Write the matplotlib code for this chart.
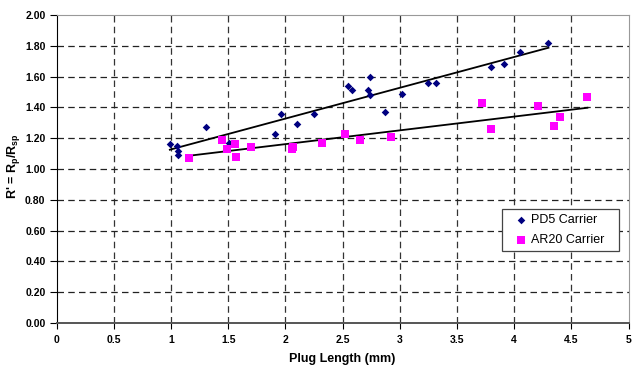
import numpy as np
import matplotlib
matplotlib.use("Agg")
import matplotlib.pyplot as plt

plt.rcParams['font.family'] = ['Liberation Sans', 'DejaVu Sans']
plt.rcParams['mathtext.fontset'] = 'custom'
plt.rcParams['mathtext.rm'] = 'Liberation Sans'
plt.rcParams['mathtext.bf'] = 'Liberation Sans:bold'

pd5_x = [0.99, 1.05, 1.06, 1.06, 1.31, 1.51, 1.91, 1.96, 2.10, 2.25, 2.55, 2.585,
         2.72, 2.74, 2.74, 2.87, 3.02, 3.25, 3.32, 3.80, 3.91, 4.05, 4.30]
pd5_y = [1.16, 1.15, 1.12, 1.09, 1.27, 1.17, 1.23, 1.36, 1.29, 1.36, 1.54, 1.51,
         1.51, 1.60, 1.48, 1.37, 1.49, 1.56, 1.56, 1.66, 1.68, 1.76, 1.82]

ar20_x = [1.16, 1.45, 1.49, 1.56, 1.57, 1.70, 2.07, 2.06, 2.32, 2.52, 2.65, 2.92,
          3.72, 3.80, 4.21, 4.35, 4.40, 4.64]
ar20_y = [1.07, 1.19, 1.13, 1.16, 1.08, 1.14, 1.145, 1.128, 1.17, 1.23, 1.19, 1.21,
          1.43, 1.26, 1.41, 1.28, 1.34, 1.47]

xticks = [0, 0.5, 1, 1.5, 2, 2.5, 3, 3.5, 4, 4.5, 5]
xtick_labels = ['0', '0.5', '1', '1.5', '2', '2.5', '3', '3.5', '4', '4.5', '5']
yticks = [0.0, 0.2, 0.4, 0.6, 0.8, 1.0, 1.2, 1.4, 1.6, 1.8, 2.0]

fig = plt.figure(figsize=(6.33, 3.67), dpi=100)
ax = fig.add_axes([0.0894, 0.1199, 0.9036, 0.8392])

ax.set_xlim(0, 5)
ax.set_ylim(0, 2)

# grid
for xv in xticks[1:-1]:
    ax.axvline(xv, color='#333333', lw=0.9, dashes=(5.2, 3.4), zorder=1)
for yv in yticks[1:-1]:
    ax.axhline(yv, color='#222222', lw=0.9, dashes=(5.2, 3.4), zorder=1)

# linear trendlines
def lin_line(xs, ys):
    xs = np.asarray(xs); ys = np.asarray(ys)
    m, c = np.polyfit(xs, ys, 1)
    xx = np.array([xs.min(), xs.max()])
    return xx, m * xx + c

tx, ty = lin_line(pd5_x, pd5_y)
ax.plot(tx, ty, color='black', lw=1.3, zorder=3)
tx2, ty2 = lin_line(ar20_x, ar20_y)
ax.plot(tx2, ty2, color='black', lw=1.3, zorder=3)

ax.scatter(pd5_x, pd5_y, marker='D', s=15, color='#000080', zorder=4,
           label='PD5 Carrier', linewidths=0)
ax.scatter(ar20_x, ar20_y, marker='s', s=28, color='#FF00FF', zorder=4,
           label='AR20 Carrier', linewidths=0)

ax.set_xticks(xticks)
ax.set_xticklabels(xtick_labels)
ax.set_yticks(yticks)
ax.set_yticklabels(['%.2f' % v for v in yticks])
for lab in ax.get_xticklabels() + ax.get_yticklabels():
    lab.set_fontweight('bold')
    lab.set_fontsize(7.5)
ax.tick_params(axis='x', direction='out', length=4, width=0.8, pad=5)
ax.tick_params(axis='y', direction='out', length=5, width=0.8, pad=3)

ax.spines['left'].set_color('black')
ax.spines['bottom'].set_color('#555555')
ax.spines['bottom'].set_linewidth(1.4)
ax.spines['top'].set_color('#999999')
ax.spines['right'].set_color('#999999')
ax.spines['top'].set_linewidth(0.8)
ax.spines['right'].set_linewidth(0.8)

ax.set_xlabel('Plug Length (mm)', fontsize=9, fontweight='bold')
ax.xaxis.set_label_coords(0.5, -0.098)
ax.set_ylabel(r"R' = R$_\mathbf{p}$/R$_\mathbf{sp}$", fontsize=9, fontweight='bold')
ax.yaxis.set_label_coords(-0.061, 0.51)

leg = ax.legend(loc='upper left', bbox_to_anchor=(0.779, 0.237, 0.2045, 0.133),
                mode='expand', fontsize=9,
                frameon=True, fancybox=False, edgecolor='#444444', framealpha=1,
                borderpad=0.4, labelspacing=0.65, handletextpad=-0.3,
                handlelength=2.2, borderaxespad=0, scatterpoints=1)
leg.get_frame().set_linewidth(0.9)

fig.savefig('out.png', dpi=100)
